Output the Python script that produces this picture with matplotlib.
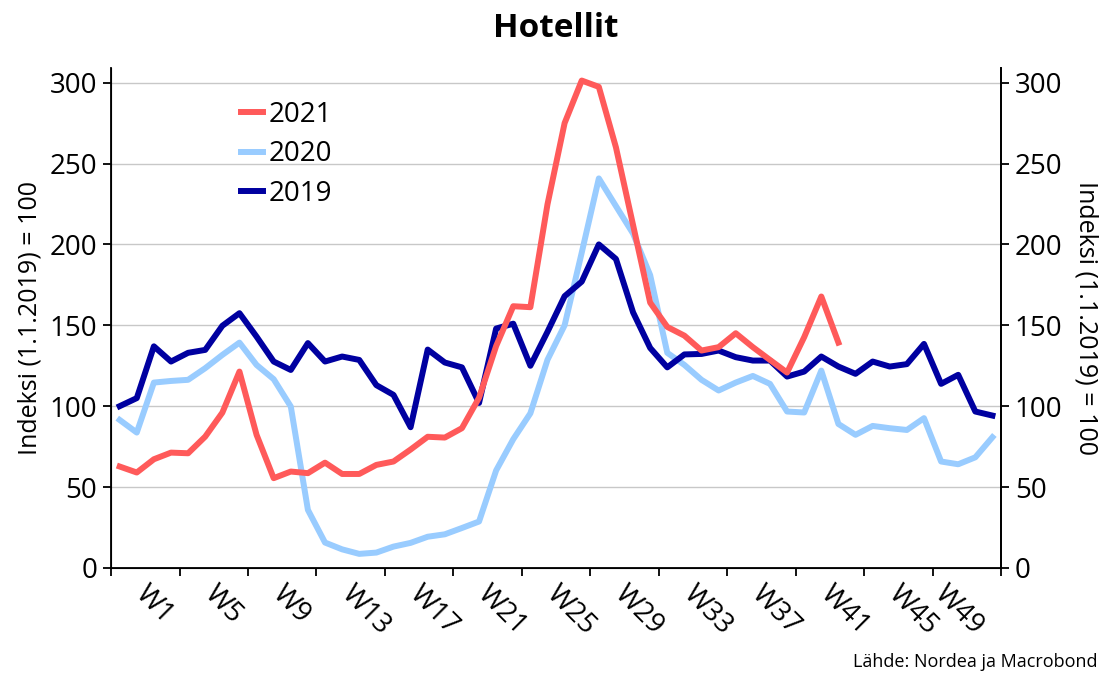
import matplotlib
matplotlib.use('Agg')
import matplotlib.pyplot as plt
import numpy as np

plt.rcParams['font.family'] = ['Open Sans', 'DejaVu Sans']

weeks = ['W%d' % (i + 1) for i in range(52)]
v2019 = [100, 105, 137, 127.6, 133, 134.8, 149.7, 157.5, 143, 127.6, 122.4, 139, 127.6,
         130.7, 128.6, 113, 107, 87, 135, 127, 124, 102, 148, 151, 125, 146, 168, 177,
         200, 191, 158, 136, 124, 132, 132.3, 134.4, 130.3, 128.2, 128.2, 118.3, 121.4,
         130.7, 124.5, 120, 127.6, 124.5, 126, 138.5, 113.8, 119.4, 96.7, 94.2]
v2020 = [91.5, 83.7, 114.6, 115.6, 116.3, 123.5, 131.7, 139.3, 125.5, 116.7, 99.8, 35.9,
         15.7, 11.5, 8.7, 9.5, 13.2, 15.5, 19.3, 20.8, 24.7, 28.7, 60.3, 79.6, 95.6, 128.7,
         150, 194.9, 240.8, 223.7, 206.7, 181, 133, 125.5, 116.3, 109.7, 114.6, 118.7,
         113.8, 96.7, 96.1, 122, 89, 82.3, 87.8, 86.4, 85.3, 92.6, 65.8, 64.1, 68.4, 80.8]
v2021 = [62.7, 59, 67.2, 71.3, 70.9, 81.2, 96, 121.4, 82.3, 55.5, 59.6, 58.6, 65.1, 58.1,
         58.1, 63.7, 65.8, 73.2, 81.1, 80.6, 86.4, 105.2, 137.2, 161.8, 161.2, 224.8, 275,
         301.3, 297.4, 260, 212, 164, 149, 143.6, 134.4, 136.5, 145.1, 136.5, 128.6, 120.8,
         142.7, 167.8, 139.3]
yticks = [0, 50, 100, 150, 200, 250, 300]
ylab = 'Indeksi (1.1.2019) = 100'

fig = plt.figure(figsize=(11, 6.81), dpi=100)
ax = fig.add_axes([0.101, 0.166, 0.809, 0.734])

x = np.arange(52)
lw = 4.3
ax.plot(x[:len(v2021)], v2021, color='#FF5A5A', lw=lw, label='2021', zorder=5)
ax.plot(x, v2020, color='#99CCFF', lw=lw, label='2020', zorder=3)
ax.plot(x, v2019, color='#0000A0', lw=lw, label='2019', zorder=4)

ax.set_xlim(-0.5, 51.5)
ax.set_ylim(0, 309)
ax.set_yticks(yticks)
ax.grid(axis='y', color='#C8C8C8', lw=1)
ax.set_axisbelow(True)

# major ticks on group borders, labels on minor ticks
ax.set_xticks(np.arange(-0.5, 52, 4))
ax.set_xticklabels([])
lab_pos = [4 * k + 1.75 for k in range(12)] + [48.4]
ax.set_xticks(lab_pos, minor=True)
ax.set_xticklabels(weeks[::4], minor=True)
plt.setp(ax.get_xticklabels(minor=True), rotation=-45, ha='left', va='top',
         rotation_mode='anchor')
ax.tick_params(axis='x', which='minor', length=0, pad=9, labelsize=20)
ax.tick_params(axis='x', which='major', length=6, width=1.3, direction='out')
ax.tick_params(axis='y', length=6, width=1.3, labelsize=20, pad=4)

for s in ['left', 'right', 'bottom']:
    ax.spines[s].set_linewidth(1.3)
ax.spines['top'].set_visible(False)
ax.set_ylabel(ylab, fontsize=18, labelpad=5)

ax2 = ax.twinx()
ax2.set_ylim(ax.get_ylim())
ax2.set_yticks(yticks)
ax2.tick_params(axis='y', length=6, width=1.3, labelsize=20, pad=4)
ax2.spines['top'].set_visible(False)
ax2.spines['right'].set_linewidth(1.3)
ax2.set_ylabel(ylab, fontsize=18, rotation=270, labelpad=26)

ax.legend(loc='upper left', bbox_to_anchor=(0.118, 0.985), frameon=False, fontsize=20,
          handlelength=0.8, handletextpad=0.2, labelspacing=0.42)

fig.text(0.505, 0.958, 'Hotellit', ha='center', va='center', fontsize=24,
         fontweight='bold')
fig.text(0.998, 0.015, 'Lähde: Nordea ja Macrobond', ha='right', va='bottom', fontsize=13)

fig.savefig('out.png', dpi=100)
